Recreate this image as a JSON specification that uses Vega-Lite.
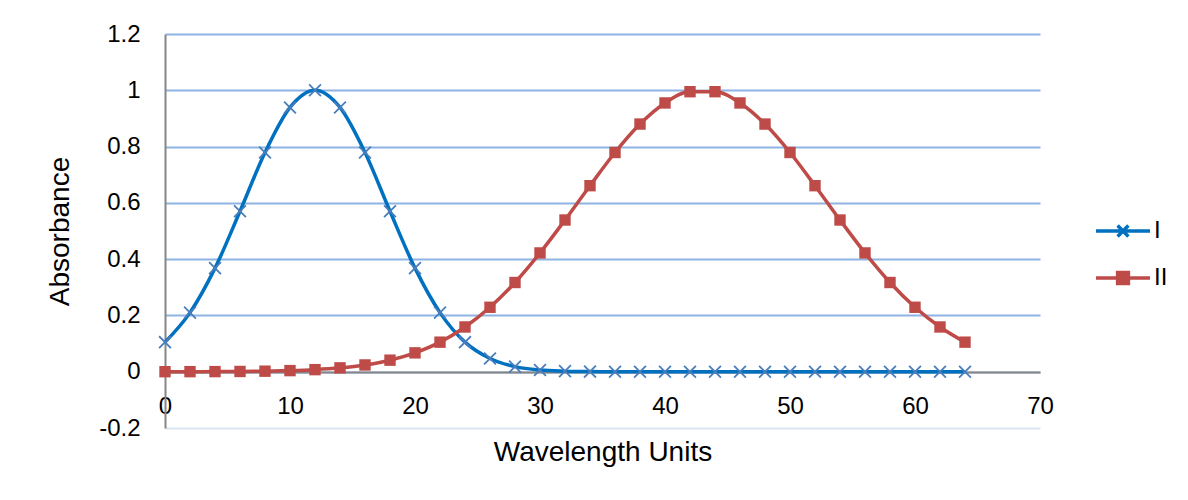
{
  "$schema": "https://vega.github.io/schema/vega-lite/v6.json",
  "width": 875,
  "height": 394,
  "autosize": "none",
  "padding": {"left": 165, "top": 34, "right": 148, "bottom": 72},
  "background": "white",
  "config": {
    "font": "Liberation Sans",
    "view": {"stroke": null},
    "axis": {"labelFont": "Liberation Sans", "titleFont": "Liberation Sans", "labelColor": "#000000", "titleColor": "#000000", "titleFontWeight": "normal", "labelFontSize": 24, "titleFontSize": 28}
  },
  "data": {"values": [
    {"x": 0, "series": "I", "a": 0.105}, {"x": 2, "series": "I", "a": 0.210}, {"x": 4, "series": "I", "a": 0.368}, {"x": 6, "series": "I", "a": 0.570},
    {"x": 8, "series": "I", "a": 0.779}, {"x": 10, "series": "I", "a": 0.939}, {"x": 12, "series": "I", "a": 1.0}, {"x": 14, "series": "I", "a": 0.939},
    {"x": 16, "series": "I", "a": 0.779}, {"x": 18, "series": "I", "a": 0.570}, {"x": 20, "series": "I", "a": 0.368}, {"x": 22, "series": "I", "a": 0.210},
    {"x": 24, "series": "I", "a": 0.105}, {"x": 26, "series": "I", "a": 0.047}, {"x": 28, "series": "I", "a": 0.018}, {"x": 30, "series": "I", "a": 0.006},
    {"x": 32, "series": "I", "a": 0.002}, {"x": 34, "series": "I", "a": 0.0005}, {"x": 36, "series": "I", "a": 0.0001}, {"x": 38, "series": "I", "a": 0},
    {"x": 40, "series": "I", "a": 0}, {"x": 42, "series": "I", "a": 0}, {"x": 44, "series": "I", "a": 0}, {"x": 46, "series": "I", "a": 0},
    {"x": 48, "series": "I", "a": 0}, {"x": 50, "series": "I", "a": 0}, {"x": 52, "series": "I", "a": 0}, {"x": 54, "series": "I", "a": 0},
    {"x": 56, "series": "I", "a": 0}, {"x": 58, "series": "I", "a": 0}, {"x": 60, "series": "I", "a": 0}, {"x": 62, "series": "I", "a": 0},
    {"x": 64, "series": "I", "a": 0},
    {"x": 0, "series": "II", "a": 0.0001}, {"x": 2, "series": "II", "a": 0.0002}, {"x": 4, "series": "II", "a": 0.0004}, {"x": 6, "series": "II", "a": 0.0009},
    {"x": 8, "series": "II", "a": 0.0019}, {"x": 10, "series": "II", "a": 0.0039}, {"x": 12, "series": "II", "a": 0.0074}, {"x": 14, "series": "II", "a": 0.0137},
    {"x": 16, "series": "II", "a": 0.024}, {"x": 18, "series": "II", "a": 0.041}, {"x": 20, "series": "II", "a": 0.067}, {"x": 22, "series": "II", "a": 0.105},
    {"x": 24, "series": "II", "a": 0.159}, {"x": 26, "series": "II", "a": 0.229}, {"x": 28, "series": "II", "a": 0.317}, {"x": 30, "series": "II", "a": 0.422},
    {"x": 32, "series": "II", "a": 0.539}, {"x": 34, "series": "II", "a": 0.661}, {"x": 36, "series": "II", "a": 0.779}, {"x": 38, "series": "II", "a": 0.88},
    {"x": 40, "series": "II", "a": 0.955}, {"x": 42, "series": "II", "a": 0.995}, {"x": 44, "series": "II", "a": 0.995}, {"x": 46, "series": "II", "a": 0.955},
    {"x": 48, "series": "II", "a": 0.88}, {"x": 50, "series": "II", "a": 0.779}, {"x": 52, "series": "II", "a": 0.661}, {"x": 54, "series": "II", "a": 0.539},
    {"x": 56, "series": "II", "a": 0.422}, {"x": 58, "series": "II", "a": 0.317}, {"x": 60, "series": "II", "a": 0.229}, {"x": 62, "series": "II", "a": 0.159},
    {"x": 64, "series": "II", "a": 0.105}
  ]},
  "encoding": {
    "x": {"field": "x", "type": "quantitative",
      "scale": {"domain": [0, 70], "nice": false, "zero": false},
      "axis": {"values": [0, 10, 20, 30, 40, 50, 60, 70], "offset": -56, "grid": false, "ticks": false, "domainColor": "#868686", "domainWidth": 2, "labelPadding": 22, "titlePadding": 20, "title": "Wavelength Units", "labelFlush": false, "labelFontSize": 24, "titleFontSize": 28}},
    "y": {"field": "a", "type": "quantitative",
      "scale": {"domain": [-0.2, 1.2], "nice": false, "zero": false},
      "axis": {"values": [-0.2, 0, 0.2, 0.4, 0.6, 0.8, 1, 1.2], "labelExpr": "toString(round(datum.value*10)/10)", "ticks": false, "domainColor": "#868686", "domainWidth": 2,
        "gridColor": {"condition": {"test": "datum.value < 0", "value": "#dce6f2"}, "value": "#8eb4e3"}, "gridWidth": 2, "gridOpacity": 1,
        "labelPadding": 25, "titlePadding": 24, "title": "Absorbance", "labelFontSize": 24, "titleFontSize": 28}}
  },
  "layer": [
    {
      "mark": {"type": "line", "interpolate": "monotone", "strokeWidth": 3.5},
      "encoding": {
        "color": {"field": "series", "type": "nominal",
          "scale": {"domain": ["I", "II"], "range": ["#0070c0", "#be4b48"]},
          "legend": {"orient": "none", "legendX": 946, "legendY": 185, "title": null, "padding": 0,
            "labelFontSize": 24, "labelColor": "#000000", "labelFont": "Liberation Sans", "labelOffset": 19, "rowPadding": 21,
            "symbolSize": 324, "symbolStrokeWidth": 3.5,
            "encode": {"symbols": {"update": {
              "shape": {"signal": "datum.value === 'I' ? 'M-3,0L3,0M-0.6,-0.6L0.6,0.6M0.6,-0.6L-0.6,0.6' : 'M-3,0L3,0M-0.6,-0.6L0.6,-0.6L0.6,0.6L-0.6,0.6Z'"},
              "fill": {"signal": "datum.value === 'II' ? '#be4b48' : 'transparent'"},
              "strokeWidth": {"value": 3.5}
            }}}}}
      }
    },
    {
      "transform": [{"filter": "datum.series === 'I'"}],
      "mark": {"type": "point", "shape": "M-1,-1L1,1M1,-1L-1,1", "filled": false, "stroke": "#4a7ebb", "strokeWidth": 1.8, "size": 140, "opacity": 1}
    },
    {
      "transform": [{"filter": "datum.series === 'II'"}],
      "mark": {"type": "point", "shape": "square", "filled": true, "fill": "#be4b48", "size": 130, "opacity": 1}
    }
  ]
}
